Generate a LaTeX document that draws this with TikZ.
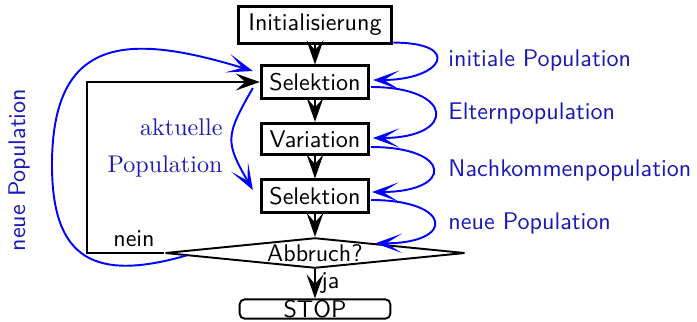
\documentclass[tikz,border=0pt]{standalone}
\usepackage{fontspec}
\usetikzlibrary{arrows.meta,shapes.geometric,calc}
\definecolor{lblue}{RGB}{25,25,180}
\begin{document}
\begin{tikzpicture}[x=0.415pt,y=-0.415pt,
  box/.style={draw,line width=1.2pt,inner xsep=3.33pt,inner ysep=3pt,font=\sffamily},
  conn/.style={line width=0.8pt,-{Stealth[length=10pt,width=7pt,inset=4pt]}},
  bconn/.style={blue,line width=0.8pt,-{Stealth[length=11pt,width=8pt,inset=6.5pt]}},
  lbl/.style={text=lblue,font=\sffamily,inner sep=0pt},
  plain/.style={font=\sffamily,inner sep=0pt}]
\useasboundingbox (0,0) rectangle (697,321);
\node[box,inner xsep=4.2pt] (init) at (315,25) {Initialisierung};
\node[box] (sel1) at (315,82) {Selektion};
\node[box] (var) at (315,139) {Variation};
\node[box] (sel2) at (315,196) {Selektion};
\node[diamond,draw,line width=0.8pt,font=\sffamily,inner sep=0pt,aspect=10,
  minimum width=124.5pt,minimum height=12.6pt] (abbr) at (315,253) {Abbruch?};
\node[draw,rounded corners=2pt,line width=0.8pt,font=\sffamily,inner xsep=2pt,
  inner ysep=0.3pt,minimum width=62.5pt] (stop) at (315,309) {STOP};
% labels
\node[lbl,anchor=base west] (l1) at (448,66) {initiale Population};
\node[lbl,anchor=base west] (l2) at (448,119) {Elternpopulation};
\node[lbl,anchor=base west] (l3) at (448,176) {Nachkommenpopulation};
\node[lbl,anchor=base west] (l4) at (448,229) {neue Population};
\node[text=lblue,inner sep=0pt,anchor=base east] (a1) at (223,135) {aktuelle};
\node[text=lblue,inner sep=0pt,anchor=base east] (a2) at (223,172) {Population};
\node[lbl,rotate=90] (l5) at (19,170) {neue Population};
\node[plain,anchor=base] (nein) at (134,246) {nein};
\node[plain,anchor=base west] (ja) at (321,288) {ja};
% black connectors
\draw[conn] (init) -- (sel1);
\draw[conn] (sel1) -- (var);
\draw[conn] (var) -- (sel2);
\draw[conn] (sel2) -- (abbr);
\draw[conn] (abbr) -- (stop);
\coordinate (lp) at (87,253);
\draw[conn] (abbr.west) -- (lp) |- (sel1.west);
% blue connectors right
\draw[bconn] ([yshift=0.8pt]init.south east) .. controls +(70,0) and +(70,0) .. ([shift={(3,-2)}]sel1.east);
\draw[bconn] ([shift={(1,5)}]sel1.east) .. controls +(84,0) and +(84,0) .. ([shift={(3,-1)}]var.east);
\draw[bconn] ([shift={(1,8)}]var.east) .. controls +(82,0) and +(82,0) .. ([shift={(2,-4)}]sel2.east);
\draw[bconn] ([shift={(1,4)}]sel2.east) .. controls +(81,0) and +(81,0) .. ($(abbr.north)!0.4!(abbr.east)$);
% blue connectors left
\coordinate (bl) at (52,165);
\draw[bconn] ($(abbr.west)!0.15!(abbr.south)$) to[out=196,in=-90,looseness=1.5] (bl)
  to[out=90,in=163,looseness=1.5] ([shift={(-7,-11)}]sel1.west);
\draw[bconn] ([shift={(-7,6)}]sel1.west) to[out=240,in=120,looseness=1.4] ([shift={(-7,-6)}]sel2.west);
\end{tikzpicture}
\end{document}
